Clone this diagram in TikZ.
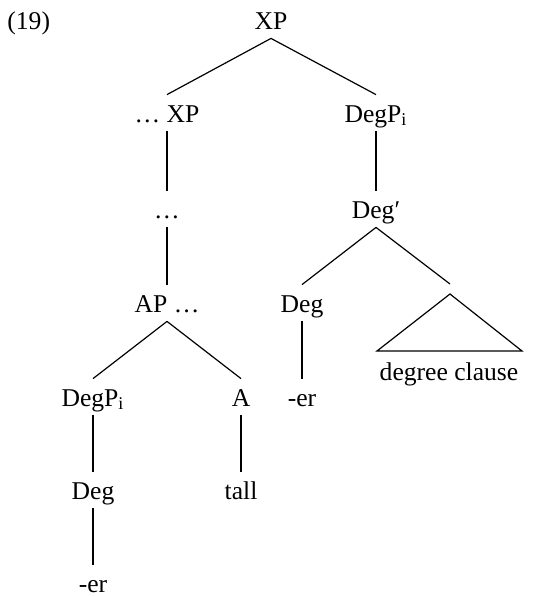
\documentclass[tikz,border=0pt]{standalone}
\usepackage{fontspec}
\setmainfont{Liberation Serif}
\usepackage{tikz}
\tikzstyle{cat} = [inner sep=0pt, anchor=base, text height=13.5pt, text depth=4.5pt,
                   font=\fontsize{12.8}{15}\selectfont]
\tikzstyle{branch} = [draw, line width=0.6pt]

\begin{document}
\begin{tikzpicture}[x=0.5pt, y=-0.5pt]
\useasboundingbox (0,0) rectangle (534,596);
\node[cat, anchor=base west] at (7,29) (num){(19)};
%Root
\node[cat] at (271,29) (xp){XP};
%Left branch
\node[cat] at (167,122) (xpl){… XP};
\node[cat] at (167,218) (dots){…};
\node[cat] at (167,312) (ap){AP …};
\node[cat] at (93,406) (degpl){DegP\textsubscript{i}};
\node[cat] at (241,406) (a){A};
\node[cat] at (93,499) (degl){Deg};
\node[cat] at (241,499) (tall){tall};
\node[cat] at (93,592) (erl){-er};
%Right branch
\node[cat] at (376,122) (degpr){DegP\textsubscript{i}};
\node[cat] at (376,218) (degbar){Deg′};
\node[cat] at (302,312) (degr){Deg};
\node[cat] at (302,406) (err){-er};
\node[cat] at (449,380) (clause){degree clause};
\coordinate (roof) at (450,294);

% Branches
\draw[branch] (xp.south) -- (xpl.north);
\draw[branch] (xp.south) -- (degpr.north);
\draw[branch] (xpl.south) -- (dots.north);
\draw[branch] (dots.south) -- (ap.north);
\draw[branch] (ap.south) -- (degpl.north);
\draw[branch] (ap.south) -- (a.north);
\draw[branch] (degpl.south) -- (degl.north);
\draw[branch] (degl.south) -- (erl.north);
\draw[branch] (a.south) -- (tall.north);
\draw[branch] (degpr.south) -- (degbar.north);
\draw[branch] (degbar.south) -- (degr.north);
\draw[branch] (degr.south) -- (err.north);
\draw[branch] (degbar.south) -- ([yshift=5pt]roof);
%Triangle
\draw[branch] (roof) -- (377,351) -- (522,351) -- cycle;
\end{tikzpicture}
\end{document}
